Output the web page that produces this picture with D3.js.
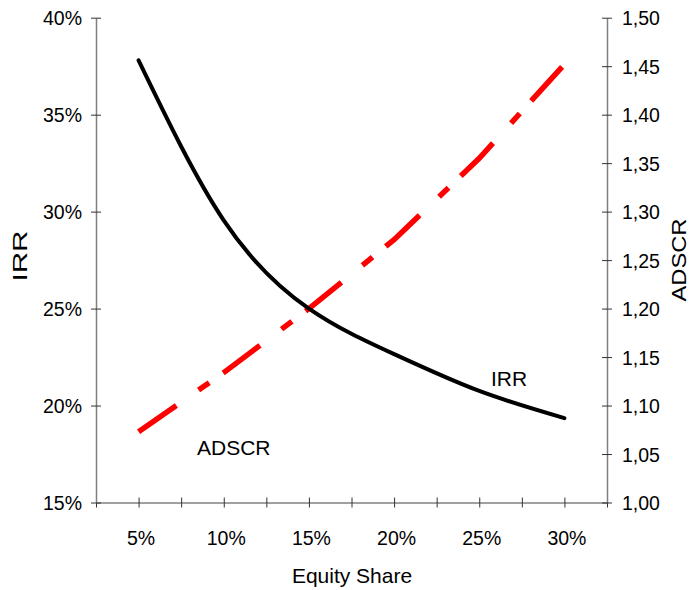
<!DOCTYPE html>
<html>
<head>
<meta charset="utf-8">
<script src="https://cdn.jsdelivr.net/npm/d3@7"></script>
<style>
    body { margin: 0; background: #fff; }
    text { font-family: "Liberation Sans", Arial, sans-serif; fill: #000; }
</style>
</head>
<body>
<svg id="chart"></svg>
<script>
// values
const equityShare = [0.05, 0.10, 0.15, 0.20, 0.25, 0.30];
const irr = [0.378, 0.2955, 0.250, 0.2265, 0.2075, 0.1935];
const adscr = [1.073, 1.134, 1.200, 1.271, 1.355, 1.452];
const xTicks = [0.025, 0.05, 0.075, 0.10, 0.125, 0.15, 0.175, 0.20, 0.225, 0.25, 0.275, 0.30, 0.325];
const irrTicks = [0.15, 0.20, 0.25, 0.30, 0.35, 0.40];
const adscrTicks = [1.00, 1.05, 1.10, 1.15, 1.20, 1.25, 1.30, 1.35, 1.40, 1.45, 1.50];

const width = 691, height = 590;
const plot = { left: 96, right: 607, top: 17.7, bottom: 502.5 };

const svg = d3.select("#chart")
    .attr("width", width)
    .attr("height", height);

const x = d3.scaleLinear().domain([0.025, 0.325]).range([plot.left, plot.right]);
const yL = d3.scaleLinear().domain([0.15, 0.40]).range([plot.bottom, plot.top]);
const yR = d3.scaleLinear().domain([1.00, 1.50]).range([plot.bottom, plot.top]);

//ticks cross the axis line, so redraw them both ways
function crossTicks(g, horizontal) {
    g.select(".domain").attr("stroke", "#808080").attr("stroke-width", 1.5);
    g.selectAll(".tick line")
        .attr("stroke", "#333")
        .attr(horizontal ? "y1" : "x1", -5)
        .attr(horizontal ? "y2" : "x2", 5);
    g.selectAll(".tick text").style("font-size", "19.5px");
}

//x axis
svg.append("g")
    .attr("transform", "translate(0," + plot.bottom + ")")
    .call(d3.axisBottom(x).tickValues(xTicks).tickSizeOuter(0)
        .tickFormat(d => {
            const p = Math.round(d * 1000) / 10;
            return (p % 5 === 0 && p >= 5 && p <= 30) ? p + "%" : "";
        }))
    .call(g => crossTicks(g, true))
    .call(g => g.selectAll(".tick text").attr("y", 0).attr("dy", "42px").attr("dx", "2px"));

//left axis
svg.append("g")
    .attr("transform", "translate(" + plot.left + ",0)")
    .call(d3.axisLeft(yL).tickValues(irrTicks).tickSizeOuter(0).tickFormat(d3.format(".0%")))
    .call(g => crossTicks(g, false))
    .call(g => g.selectAll(".tick text").attr("x", -14).attr("dy", "0.36em"));

//right axis
svg.append("g")
    .attr("transform", "translate(" + plot.right + ",0)")
    .call(d3.axisRight(yR).tickValues(adscrTicks).tickSizeOuter(0)
        .tickFormat(d => d3.format(".2f")(d).replace(".", ",")))
    .call(g => crossTicks(g, false))
    .call(g => g.selectAll(".tick text").attr("x", 15).attr("dy", "0.36em"));

//ADSCR line (red, long dash - short dash)
const adscrLine = d3.line()
    .x((d, i) => x(equityShare[i]))
    .y(d => yR(d));

svg.append("path")
    .datum(adscr)
    .attr("d", adscrLine)
    .attr("fill", "none")
    .attr("stroke", "#ff0000")
    .attr("stroke-width", 5.5)
    .attr("stroke-dasharray", "46,27,13,17");

//IRR line (black, smoothed)
const irrLine = d3.line()
    .x((d, i) => x(equityShare[i]))
    .y(d => yL(d))
    .curve(d3.curveNatural);

svg.append("path")
    .datum(irr)
    .attr("d", irrLine)
    .attr("fill", "none")
    .attr("stroke", "#000")
    .attr("stroke-width", 4)
    .attr("stroke-linecap", "round");

//series labels
svg.append("text")
    .attr("x", 491).attr("y", 386)
    .style("font-size", "21px")
    .text("IRR");

svg.append("text")
    .attr("x", 197).attr("y", 455)
    .style("font-size", "21px")
    .text("ADSCR");

//axis titles
svg.append("text")
    .attr("x", 352).attr("y", 583)
    .attr("text-anchor", "middle")
    .style("font-size", "21px")
    .text("Equity Share");

svg.append("text")
    .attr("transform", "translate(27,256) rotate(-90)")
    .attr("text-anchor", "middle")
    .attr("textLength", 51)
    .attr("lengthAdjust", "spacingAndGlyphs")
    .style("font-size", "21px")
    .text("IRR");

svg.append("text")
    .attr("transform", "translate(686,260) rotate(-90)")
    .attr("text-anchor", "middle")
    .attr("textLength", 83)
    .attr("lengthAdjust", "spacingAndGlyphs")
    .style("font-size", "20px")
    .text("ADSCR");
</script>
</body>
</html>
